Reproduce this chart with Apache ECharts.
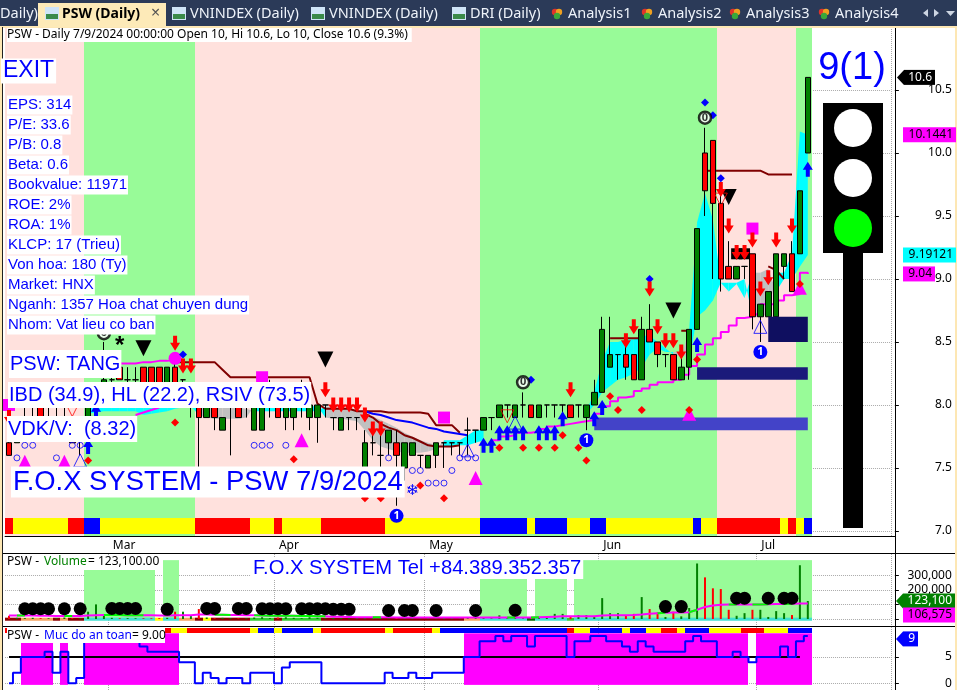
<!DOCTYPE html>
<html>
<head>
<meta charset="utf-8">
<title>PSW (Daily)</title>
<style>html,body{margin:0;padding:0;background:#fff}#main{width:957px;height:690px}</style>
<script src="https://cdn.jsdelivr.net/npm/echarts@6/dist/echarts.min.js"></script>
</head>
<body>
<div id="main"></div>
<script>
const _ = null;
const monthTicks = {13: 'Mar', 34: 'Apr', 53: 'May', 75: 'Jun', 95: 'Jul'};

const open = [7.7,7.7,7.9,7.9,8.0,8.0,8.0,8.0,7.8,7.8, 7.9,8.0,8.1,8.2,8.3,8.2,8.2,8.3,8.3,8.3,
  8.1,8.3,8.2,8.0,8.0,7.9,8.0,7.8,8.0,8.0, 8.0,7.8,7.8,8.0,8.0,7.9,7.9,8.0,7.9,7.9,
  8.0,7.9,7.8,7.9,7.9,7.5,7.7,7.6,7.7,7.7, 7.5,7.6,7.6,7.5,7.6,7.7,7.7,7.7,7.8,7.8,
  7.8,7.9,7.9,8.0,7.9,8.0,8.0,7.9,8.0,8.0, 8.0,8.0,8.0,7.9,8.0,8.1,8.3,8.4,8.4,8.4,
  8.2,8.6,8.5,8.4,8.4,8.2,8.3,8.6,10.0,10.1, 9.6,9.1,9.0,9.1,9.2,8.7,8.7,8.7,9.1,9.2,9.2,10.0];
const close = [7.6,7.8,7.9,7.9,7.9,8.0,8.0,8.0,7.7,7.8, 8.0,8.0,8.2,8.2,8.2,8.2,8.2,8.1,8.1,8.1,
  8.3,8.1,8.2,8.0,7.9,8.0,7.9,7.9,8.0,7.9, 8.0,8.0,8.0,8.0,7.9,8.0,8.0,8.0,8.0,8.0,
  8.0,7.9,7.9,7.9,7.9,7.7,7.7,7.6,7.8,7.6, 7.7,7.7,7.6,7.6,7.7,7.7,7.7,7.7,7.8,7.8,
  7.9,7.9,8.0,8.0,8.0,8.0,7.9,8.0,8.0,8.0, 8.0,7.9,8.0,8.0,8.1,8.6,8.4,8.4,8.3,8.2,
  8.6,8.5,8.4,8.4,8.2,8.3,8.6,9.4,9.7,9.6, 9.0,9.0,9.1,9.1,8.7,8.8,8.9,9.2,9.2,8.9,9.7,10.6];
const low = [7.6,7.7,7.8,7.8,7.8,7.9,7.9,7.9,7.7,7.6, 7.9,7.9,8.1,8.1,8.2,8.1,8.1,8.1,8.1,8.1,
  8.1,8.1,8.1,7.9,7.3,7.9,7.8,7.8,7.6,7.9, 7.9,7.8,7.8,7.9,7.9,7.8,7.8,7.9,7.8,7.7,
  7.9,7.8,7.8,7.8,7.8,7.5,7.6,7.5,7.6,7.2, 7.4,7.6,7.5,7.5,7.5,7.5,7.6,7.6,7.6,7.7,
  7.8,7.8,7.9,7.9,7.9,7.9,7.9,7.9,7.9,7.9, 7.9,7.9,7.9,7.8,8.0,8.1,8.3,8.2,8.2,8.2,
  8.2,8.5,8.3,8.3,8.2,8.2,8.2,8.6,9.5,9.0, 8.9,9.0,9.0,9.0,8.6,8.5,8.7,8.7,9.0,8.9,9.2,10.0];
const high = [7.8,7.9,8.0,8.0,8.1,8.0,8.0,8.1,7.8,7.9, 8.0,8.1,8.5,8.4,8.3,8.3,8.3,8.3,8.3,8.3,
  8.3,8.4,8.2,8.0,8.0,8.0,8.0,7.9,8.0,8.0, 8.0,8.0,8.0,8.2,8.0,8.0,8.0,8.2,8.0,8.0,
  8.0,7.9,7.9,7.9,7.9,7.8,7.8,7.8,7.8,7.8, 7.7,7.7,7.6,7.6,7.7,7.7,7.7,7.7,7.9,7.8,
  7.9,7.9,8.0,8.0,8.0,8.1,8.0,8.0,8.0,8.0, 8.0,8.0,8.0,8.0,8.2,8.7,8.7,8.4,8.5,8.4,
  8.7,8.8,8.5,8.4,8.4,8.4,8.6,9.4,10.2,10.1, 9.7,9.3,9.1,9.1,9.2,8.8,8.9,9.2,9.2,9.3,9.7,10.6];

const volume = [22000,8000,6000,8000,6000,5000,5000,10000,6000,5000, 50000,100000,30000,8000,5000,6000,5000,5000,5000,6000,
  8000,50000,50000,20000,68000,10000,6000,8000,6000,5000, 6000,10000,12000,6000,10000,12000,8000,6000,12000,8000,
  5000,8000,6000,5000,5000,6000,10000,8000,6000,6000, 8000,10000,5000,6000,5000,8000,6000,5000,6000,12000,
  8000,5000,25000,6000,10000,5000,12000,8000,10000,35000, 35000,18000,27000,27000,18000,143000,40000,40000,27000,35000,
  150000,68000,45000,14000,50000,18000,75000,380000,285000,210000, 205000,63000,22000,40000,63000,63000,14000,54000,40000,27000,368000,123100];
const volMa = [24000,24000,24000,24000,22000,22000,20000,20000,20000,20000, 24000,26000,28000,27000,27000,26000,26000,25000,25000,24000,
  24000,25000,26000,26000,30000,30000,29000,29000,28000,28000, 26000,25000,24000,23000,22000,22000,22000,20000,20000,18000,
  18000,16000,15000,14000,12000,12000,12000,12000,12000,11000, 11000,11000,10000,10000,10000,10000,10000,10000,10000,11000,
  10000,10000,11000,11000,11000,10000,10000,12000,14000,16000, 18000,18000,19000,19000,19000,24000,25000,25000,26000,27000,
  31000,36000,40000,42000,44000,44000,46000,63000,82000,92000, 98000,100000,100000,99000,100000,100000,101000,102000,103000,104000,106000,106575];
const volMaGreenRuns = [[1,2],[7,8],[12,17],[26,28],[31,40],[46,47],[63,64],[66,67],[82,83],[86,87],[91,92],[94,96],[98,99]];
const volDots = [[2,70000],[3,70000],[4,70000],[5,70000],[7,70000],[9,70000],[13,72000],[14,72000],[15,72000],[16,72000],[20,66000],
  [25,72000],[26,72000],[29,72000],[30,72000],[32,70000],[33,70000],[34,70000],[35,70000],[37,70000],[38,70000],[39,70000],[40,70000],
  [41,66000],[42,66000],[43,66000],[48,58000],[50,58000],[51,58000],[54,58000],[59,58000],[64,60000],[83,85000],[85,85000],
  [92,142000],[93,142000],[96,142000],[98,142000],[99,142000]];

const maValues = [0,2,5,5,5,6,2,6,0,1, 8,8,8,8,8,8,8,7,6,6, 6,6,4,4,0,2,1,0,1,1, 0,2,2,2,0,3,4,4,4,4,
  0,0,0,0,0,0,0,0,2,1, 1,2,1,1,2,2,2,2,5,5, 8,8,9,8,9,9,7,9,9,9, 9,5,8,8,9,9,8,8,7,6,
  8,7,6,6,6,6,8,9,8,8, 5,5,6,5,4,5,5,5,7,5,8,9];
const safeLevel = 5;

const regime = ['pppppppppp','gggggggggg','ggggpppppp','pppppppppp','pppppppppp','pppppppppp','gggggggggg','gggggggggg','gggggggggg','ppppppppppgg'].join('');
const mainStrip = ['ryyyyyyyrr','bbyyyyyyyy','yyyyrrrrrr','ryyyryyyyy','rrrrrrrryy','yyyyyyyyyy','bbbbbbybbb','byyybbyyyy','yyyyyyybyy','rrrrrrrryryb'].join('');
const maStrip = ['ryyrrrryyb','rrrrrrrrrr','ryyrrrrrrr','rybbybbbby','rrrrrrrryr','rrrrybbbbb','bbbbbbbbbb','bryybbbbyb','byyrrybbby','yyyrrryyybbb'].join('');
const volStrip = ['ddoooododd','ttttttttty','ttoodydddd','dllldlllll','dddddddddd','ddddddddoo','ttttttgttt','tltttttttt','tttttttttt','tttttttttttt'].join('');

const maFast = [_,_,_,_,_,_,_,_,_,_, 7.99,7.99,7.99,7.99,7.99,7.99,7.99,8.0,8.0,8.0,
  8.0,8.0,8.0,7.99,7.92,7.9,7.89,7.89,7.89,7.89, 7.9,7.99,7.99,7.99,7.99,7.99,7.99,7.99,7.99,7.99,
  7.9,7.89,7.89,7.88,7.87,7.8,7.72,7.67,7.65,7.63, 7.62,7.62,7.62,7.63,7.65,7.72,7.72,7.72,7.76,7.8,
  7.8,_,_,_,_,_,_,_,_,_, _,_,_,7.95,8.1,8.35,8.5,8.5,8.52,8.52,
  8.55,8.55,8.5,8.45,8.4,8.38,8.6,9.45,9.68,9.47, 8.97,8.97,8.97,9.0,8.7,8.7,8.72,9.05,9.05,9.2,10.17,10.1441];
const maSlow = [_,_,_,_,_,_,_,_,_,_, 7.93,7.94,7.95,7.95,7.95,7.95,7.95,7.92,7.93,7.94,
  7.95,7.97,7.98,7.99,8.0,8.0,8.0,7.99,7.99,7.98, 7.97,7.95,7.95,7.95,7.95,7.95,7.95,7.95,7.95,7.95,
  7.99,7.98,7.97,7.97,7.96,7.94,7.91,7.88,7.85,7.82, 7.78,7.75,7.72,7.7,7.68,7.67,7.67,7.68,7.68,7.7,
  7.72,_,_,_,_,_,_,_,_,_, _,_,_,7.93,8.0,8.1,8.15,8.2,8.22,8.25,
  8.3,8.4,8.45,8.42,8.42,8.42,8.35,8.7,8.75,8.83, 8.97,8.9,8.96,8.85,9.05,9.05,9.08,8.9,9.0,9.0,9.1,9.19121];

const magentaLine = [_,_,_,_,_,_,_,_,_,_, _,_,_,_,8.33,8.33,8.34,8.34,8.35,8.35,
  8.36,8.36,_,_,_,_,_,_,_,_, _,_,_,_,_,_,_,_,_,_,
  _,_,_,_,_,_,_,_,_,_, _,_,_,_,_,_,_,_,_,_,
  _,7.72,7.75,7.76,7.78,7.78,7.79,7.81,7.83,7.84, 7.85,7.86,7.87,7.88,7.93,7.99,8.03,8.06,8.07,8.11,
  8.13,8.16,8.18,8.18,8.2,8.24,8.31,8.4,8.48,8.53, 8.58,8.63,8.69,8.7,8.72,8.8,8.8,8.83,8.87,8.88,9.05,9.04];
const magentaLow = [[16,7.92],[17,7.94],[18,7.96],[19,7.98]];
const stopLine = [_,_,_,_,_,_,_,_,_,_, _,_,_,_,_,_,_,_,_,_,
  _,8.34,8.34,8.34,8.34,8.34,8.34,8.28,8.22,8.22, 8.22,8.22,8.22,8.22,8.22,8.22,8.22,8.22,8.22,8.01,
  7.97,7.97,7.97,7.97,7.95,7.95,7.95,7.95,7.94,7.94, 7.94,7.94,7.94,7.93,7.84,7.84,7.84,7.78,_,_,
  _,_,_,_,_,_,_,_,_,_, _,_,_,_,_,_,8.53,8.53,8.53,8.53,
  8.53,_,_,_,_,8.59,8.59,_,9.86,9.86, 9.86,9.86,9.86,9.86,9.86,9.86,9.83,9.83,9.83,9.83,_,_];
const slowLine = [[45,7.93],[46,7.9],[47,7.85],[48,7.82],[49,7.8],[50,7.76],[51,7.74],[52,7.71],[53,7.68],[54,7.67],[55,7.67],[56,7.67],[57,7.68]];
const slowLine2 = [[96,9.1],[97,9.07],[98,9.0]];
const blueLine = [[45,7.95],[46,7.93],[47,7.92],[48,7.9],[49,7.88],[50,7.87],[51,7.86],[52,7.84],[53,7.82],[54,7.81],[55,7.79],[56,7.78],[57,7.77],[58,7.76]];

const zoneStart = [74, 87, 96];
const zoneEnd = [101, 101, 101];
const zoneLow = [7.8, 8.2, 8.5];
const zoneHigh = [7.9, 8.3, 8.7];
const zoneColor = ['#4343c8', '#1a1a7a', '#0f0f60'];

const redArrows = [[0,7.9],[21,8.49],[22,8.31],[23,8.31],[40,8.12],[41,8.0],[42,8.0],[43,8.0],[44,8.0],[45,7.92],[46,7.81],[47,7.81],
  [71,8.12],[78,8.51],[79,8.62],[81,8.92],[82,8.62],[83,8.51],[84,8.51],[85,8.42],[90,9.71],[91,9.42],[92,9.21],[93,9.21],[94,9.31],[95,8.92],[96,9.01],[97,9.31],[99,9.42]];
const blueArrows = [[10,7.67],[11,7.95],[60,7.68],[61,7.68],[62,7.78],[63,7.78],[64,7.78],[65,7.78],[67,7.78],[68,7.78],[69,7.78],[70,7.89],[74,7.89],[75,7.98],[87,8.48],[101,9.87]];
const redDots = [[10,7.56],[21,7.86],[36,7.57],[45,7.26],[47,7.26],[52,7.36],[55,7.26],[62,7.66],[65,7.66],[67,7.66],[69,7.66],[70,7.76],[72,7.66],[73,7.56],[76,8.07],[77,7.96],[80,7.96],[86,7.96],[87,8.36],[100,8.96]];
const blueDots = [[22,8.4],[66,8.2],[81,9.0],[88,10.4],[89,10.3],[90,9.8]];
const hollowDots = [[2,7.68],[3,7.68],[8,7.68],[9,7.68],[31,7.68],[32,7.68],[33,7.68],[35,7.68],[1,7.58],[6,7.58],[48,7.58],[57,7.58],[58,7.58],[59,7.58],[51,7.48],[52,7.48],[56,7.48],[53,7.38],[54,7.38],[55,7.38]];
const magentaTriangles = [[2,7.55],[7,7.55],[37,7.72],[59,7.42],[86,7.93],[100,8.93]];
const blackTriangles = [[17,8.45],[40,8.36],[84,8.75],[91,9.65]];
const magentaSquares = [[0,8.0],[32,8.22],[55,7.9],[94,9.4]];
const blackSquares = [[92,9.2],[93,9.2]];
const redOutlines = [[8,7.96],[63,7.91],[90,9.63]];
const blueOutlines = [[9,7.56],[58,7.64],[64,7.86],[95,8.62]];
const oneBadges = [[49,7.12],[73,7.72],[95,8.42]];
const zeroBadges = [[12,8.57],[65,8.18],[88,10.28]];

const titleText = 'PSW - Daily 7/9/2024 00:00:00 Open 10, Hi 10.6, Lo 10, Close 10.6 (9.3%)';
const infoLines = ['EPS: 314','P/E: 33.6','P/B: 0.8','Beta: 0.6','Bookvalue: 11971','ROE: 2%','ROA: 1%','KLCP: 17 (Trieu)','Von hoa: 180 (Ty)','Market: HNX','Nganh: 1357 Hoa chat chuyen dung','Nhom: Vat lieu co ban'];
const tabs = [['Daily)', 0], ['VNINDEX (Daily)', 190], ['VNINDEX (Daily)', 329], ['DRI (Daily)', 470], ['Analysis1', 568], ['Analysis2', 658], ['Analysis3', 746], ['Analysis4', 835]];

const FONT = '"Noto Sans", sans-serif';
const ARIAL = '"Liberation Sans", Arial, sans-serif';
const stripColors = {r: '#ff0000', y: '#ffff00', b: '#0000ff', d: '#8b0000', o: '#f4a460', t: '#40e0d0', l: '#32cd32', g: '#006400'};
const ARROW_DOWN = 'path://M3 0L7 0L7 7L10 7L5 15L0 7L3 7Z';
const ARROW_UP = 'path://M5 0L10 8L7 8L7 15L3 15L3 8L0 8Z';
const SLOTS = 112;

const xLabels = [];
for (let i = 0; i < SLOTS; i++) xLabels.push(monthTicks[i] || '');
const isMonth = function (i) { return monthTicks[i] !== undefined; };
const dotted = {show: true, interval: isMonth, lineStyle: {color: '#aaa', type: 'dotted'}};

function cellSeries(name, grid, rows, colors, z) {
  return {
    name: name, type: 'custom', xAxisIndex: grid, yAxisIndex: grid, z: z, silent: true,
    data: rows, encode: {x: 0, y: [1, 2]},
    renderItem: function (params, api) {
      const a = api.coord([api.value(0), api.value(1)]);
      const b = api.coord([api.value(0), api.value(2)]);
      const w = api.size([1, 0])[0];
      const x0 = Math.round(a[0] - w / 2), x1 = Math.round(a[0] + w / 2);
      return {type: 'rect', shape: {x: x0, y: b[1], width: x1 - x0, height: a[1] - b[1]}, style: {fill: colors[params.dataIndex]}};
    }
  };
}

function stripSeries(name, grid, letters, lo, hi, z) {
  const rows = [], colors = [];
  letters.split('').forEach(function (c, i) {
    rows.push([i, lo, hi]);
    colors.push(stripColors[c]);
  });
  return cellSeries(name, grid, rows, colors, z);
}

function marks(name, data, symbol, size, color, z, extra) {
  return Object.assign({
    name: name, type: 'scatter', data: data, symbol: symbol, symbolSize: size, z: z, silent: true,
    xAxisIndex: 0, yAxisIndex: 0, itemStyle: {color: color, opacity: 1}
  }, extra || {});
}

function lineSeries(name, grid, data, color, width, z, step) {
  return {
    name: name, type: 'line', xAxisIndex: grid, yAxisIndex: grid, data: data, z: z, silent: true,
    showSymbol: false, step: step || false, connectNulls: false, lineStyle: {color: color, width: width}
  };
}

function badge(text, color) {
  return {show: true, position: 'inside', formatter: text, color: color, fontFamily: FONT, fontWeight: 'bold', fontSize: 11};
}

const bgRows = [], bgColors = [];
regime.split('').forEach(function (c, i) {
  bgRows.push([i, 6.96, 11]);
  bgColors.push(c === 'g' ? '#98fb98' : '#ffe1dd');
});
const volBgRows = [], volBgColors = [];
volStrip.split('').forEach(function (c, i) {
  if (c === 't') {
    volBgRows.push([i, -7000, 403000]);
    volBgColors.push('#98fb98');
  }
});
const maBgRows = [], maBgColors = [];
maValues.forEach(function (v, i) {
  if (v >= safeLevel) {
    maBgRows.push([i, -0.3, 9.5]);
    maBgColors.push('#ff00ff');
  }
});

const volGreen = volMa.map(function (v, i) {
  return volMaGreenRuns.some(function (r) { return i >= r[0] && i <= r[1]; }) ? v : null;
});

const option = {
  animation: false,
  backgroundColor: '#fff',
  grid: [
    {left: 5.05, width: 885.8, top: 27, height: 509},
    {left: 5.05, width: 885.8, top: 554, height: 72},
    {left: 5.05, width: 885.8, top: 627, height: 63}
  ],
  xAxis: [
    {
      type: 'category', gridIndex: 0, data: xLabels,
      axisLine: {lineStyle: {color: '#000'}},
      axisTick: {interval: isMonth, length: 5, alignWithLabel: true, lineStyle: {color: '#000'}},
      axisLabel: {interval: isMonth, align: 'left', padding: [2, 0, 0, 1], margin: 2, color: '#000', fontFamily: FONT, fontSize: 12},
      splitLine: dotted
    },
    {type: 'category', gridIndex: 1, data: xLabels, axisLine: {show: false}, axisTick: {show: false}, axisLabel: {show: false}, splitLine: dotted},
    {type: 'category', gridIndex: 2, data: xLabels, axisLine: {show: false}, axisTick: {show: false}, axisLabel: {show: false}, splitLine: dotted}
  ],
  yAxis: [
    {
      type: 'value', gridIndex: 0, position: 'right', offset: 4, min: 6.96, max: 11, scale: true,
      axisLine: {show: false},
      axisTick: {show: true, length: 4, lineStyle: {color: '#000'}, customValues: [7, 7.5, 8, 8.5, 9, 9.5, 10, 10.5]},
      axisLabel: {customValues: [7, 7.5, 8, 8.5, 9, 9.5, 10, 10.5], align: 'right', margin: 57, padding: [2, 0, 0, 0], color: '#000', fontFamily: FONT, fontSize: 12, formatter: function (v) { return v.toFixed(1); }},
      splitLine: {show: true, lineStyle: {color: '#aaa', type: 'dotted'}}
    },
    {
      type: 'value', gridIndex: 1, position: 'right', offset: 4, min: -48000, max: 445000,
      axisLine: {show: false},
      axisTick: {show: true, length: 4, lineStyle: {color: '#000'}, customValues: [0, 100000, 200000, 300000]},
      axisLabel: {customValues: [200000, 300000], align: 'right', margin: 57, color: '#000', fontFamily: FONT, fontSize: 12, formatter: function (v) { return v.toLocaleString('en-US'); }},
      splitLine: {show: true, lineStyle: {color: '#aaa', type: 'dotted'}}
    },
    {
      type: 'value', gridIndex: 2, position: 'right', offset: 4, min: -1.27, max: 10.69,
      axisLine: {show: false},
      axisTick: {show: true, length: 4, lineStyle: {color: '#000'}, customValues: [0, 5]},
      axisLabel: {customValues: [0, 5], align: 'right', margin: 57, color: '#000', fontFamily: FONT, fontSize: 12},
      splitLine: {show: true, lineStyle: {color: '#aaa', type: 'dotted'}}
    }
  ],
  series: [
    cellSeries('regime', 0, bgRows, bgColors, 1),
    stripSeries('mainStrip', 0, mainStrip, 6.976, 7.103, 2),
    {
      name: 'maBand', type: 'custom', xAxisIndex: 0, yAxisIndex: 0, z: 3, silent: true,
      data: maFast.map(function (f, i) { return [i, f === null ? NaN : f, maSlow[i] === null ? NaN : maSlow[i]]; }),
      encode: {x: 0, y: [1, 2]},
      renderItem: function (params, api) {
        const i = params.dataIndex;
        if (maFast[i] === null || maFast[i + 1] === null || maFast[i + 1] === undefined) return null;
        const pts = [
          api.coord([i, maFast[i]]), api.coord([i + 1, maFast[i + 1]]),
          api.coord([i + 1, maSlow[i + 1]]), api.coord([i, maSlow[i]])
        ];
        return {type: 'polygon', shape: {points: pts}, style: {fill: maFast[i] >= maSlow[i] ? '#00ffff' : '#c0c0c0'}};
      }
    },
    lineSeries('magenta', 0, magentaLine, '#ff00ff', 2, 4, 'end'),
    lineSeries('magentaLow', 0, magentaLow, '#ff00ff', 2, 4),
    lineSeries('stop', 0, stopLine, '#800000', 2, 4),
    lineSeries('slow', 0, slowLine, '#800000', 2, 4),
    lineSeries('slow2', 0, slowLine2, '#800000', 2, 4),
    lineSeries('blue', 0, blueLine, '#0000ff', 2, 4),
    {
      name: 'PSW', type: 'candlestick', xAxisIndex: 0, yAxisIndex: 0, z: 5, barWidth: 6, silent: true,
      data: open.map(function (o, i) { return [o, close[i], low[i], high[i]]; }),
      itemStyle: {color: '#008000', color0: '#ff0000', borderColor: '#000', borderColor0: '#000', borderColorDoji: '#000', borderWidth: 1}
    },
    marks('blueOutlines', blueOutlines, 'triangle', 13, 'transparent', 5, {itemStyle: {color: 'transparent', borderColor: '#0000ff', borderWidth: 1}}),
    {
      name: 'zones', type: 'custom', xAxisIndex: 0, yAxisIndex: 0, z: 6, silent: true,
      data: zoneStart.map(function (s, i) { return [s, zoneEnd[i], zoneLow[i], zoneHigh[i]]; }),
      encode: {x: [0, 1], y: [2, 3]},
      renderItem: function (params, api) {
        const a = api.coord([api.value(0), api.value(3)]);
        const b = api.coord([api.value(1), api.value(2)]);
        return {type: 'rect', shape: {x: a[0], y: a[1], width: b[0] - a[0], height: b[1] - a[1]}, style: {fill: zoneColor[params.dataIndex]}};
      }
    },
    marks('blackSquares', blackSquares, 'rect', 11, '#000', 7),
    marks('blackTriangles', blackTriangles, 'triangle', 16, '#000', 7, {symbolRotate: 180}),
    marks('magentaTriangles', magentaTriangles, 'triangle', 14, '#ff00ff', 7),
    marks('magentaSquares', magentaSquares, 'rect', 12, '#ff00ff', 7),
    marks('magentaDot', [[21, 8.37]], 'circle', 13, '#ff00ff', 7),
    marks('hollow', hollowDots, 'circle', 6, 'transparent', 8, {itemStyle: {color: 'transparent', borderColor: '#0000ff', borderWidth: 1}}),
    marks('redOutlines', redOutlines, 'triangle', 13, 'transparent', 8, {symbolRotate: 180, itemStyle: {color: 'transparent', borderColor: '#ff0000', borderWidth: 1}}),
    marks('redDots', redDots, 'diamond', 8, '#ff0000', 8),
    marks('blueDots', blueDots, 'diamond', 8, '#0000ff', 8),
    marks('redArrows', redArrows, ARROW_DOWN, [10, 15], '#ff0000', 9),
    marks('blueArrows', blueArrows, ARROW_UP, [10, 15], '#0000ff', 9),
    marks('oneBadges', oneBadges, 'circle', 14, '#0000ff', 9, {label: badge('1', '#fff')}),
    marks('zeroBadges', zeroBadges, 'circle', 12, '#fff', 9, {itemStyle: {color: '#fff', borderColor: '#000', borderWidth: 2.5}, label: badge('0', '#000')}),
    marks('star', [[14, 8.5]], 'circle', 1, 'transparent', 9, {label: {show: true, position: 'inside', formatter: '*', color: '#000', fontSize: 24, fontFamily: ARIAL, fontWeight: 'bold', offset: [0, 4]}}),
    marks('snow', [[51, 7.32]], 'circle', 1, 'transparent', 9, {label: {show: true, position: 'inside', formatter: '\u2744', color: '#0000ff', fontSize: 15, fontFamily: '"DejaVu Sans"'}}),

    cellSeries('volBg', 1, volBgRows, volBgColors, 1),
    stripSeries('volStrip', 1, volStrip, -12000, 9000, 2),
    {
      name: 'Volume', type: 'bar', xAxisIndex: 1, yAxisIndex: 1, barWidth: 2, z: 3, silent: true,
      data: volume.map(function (v, i) {
        return {value: v, itemStyle: {color: close[i] >= open[i] ? '#008000' : '#ff0000'}};
      })
    },
    lineSeries('volMa', 1, volMa, '#ff00ff', 2, 4),
    lineSeries('volMaUp', 1, volGreen, '#00ff00', 2, 4),
    Object.assign(marks('volDots', volDots, 'circle', 13, '#000', 5), {xAxisIndex: 1, yAxisIndex: 1}),

    cellSeries('maBg', 2, maBgRows, maBgColors, 1),
    (function () {
      const rows = [], colors = [];
      maStrip.split('').forEach(function (c, i) {
        rows.push([i, 9.55, 10.5]);
        colors.push(stripColors[c]);
      });
      return cellSeries('maStrip', 2, rows, colors, 2);
    })(),
    lineSeries('safe', 2, maValues.slice(0, 101).map(function () { return safeLevel; }), '#000', 2, 3),
    lineSeries('Muc do an toan', 2, maValues, '#0000ff', 2, 4, 'middle')
  ]
};

const chart = echarts.init(document.getElementById('main'), null, {renderer: 'canvas'});
chart.setOption(option);

function box(text, x, y, font, fill, pad) {
  return {
    type: 'text', z: 100,
    style: {text: text, x: x, y: y, font: font, fill: fill || '#0000ff', backgroundColor: '#fff', padding: pad || [1, 2], verticalAlign: 'middle'}
  };
}

function rect(x, y, w, h, fill, z) {
  return {type: 'rect', z: z || 100, shape: {x: x, y: y, width: w, height: h}, style: {fill: fill}};
}

function dot(cx, cy, r, fill, z) {
  return {type: 'circle', z: z || 101, shape: {cx: cx, cy: cy, r: r}, style: {fill: fill}};
}

function tag(value, grid, text, x0, x1, bg, fg, arrow, dy) {
  const y = chart.convertToPixel({yAxisIndex: grid}, value) + (dy || 0);
  const out = [];
  if (arrow) {
    out.push({type: 'polygon', z: 110, shape: {points: [[x0, y], [x0 + 7, y - 7.5], [x0 + 7, y + 7.5]]}, style: {fill: bg}});
    out.push(rect(x0 + 7, y - 7.5, x1 - x0 - 7, 15, bg, 110));
  } else {
    out.push(rect(x0, y - 7.5, x1 - x0, 15, bg, 110));
  }
  out.push({type: 'text', z: 111, style: {text: text, x: x1 - 3, y: y, align: 'right', verticalAlign: 'middle', font: '12px ' + FONT, fill: fg}});
  return out;
}

const g = [];

// top tab bar
g.push(rect(0, 0, 957, 26, '#2b3a58'));
g.push(rect(0, 26, 957, 2, '#fde7b4'));
g.push(rect(0, 26, 2, 664, '#fde7b4'));
g.push(rect(955, 26, 2, 664, '#fde7b4'));
g.push(rect(2, 27, 1, 663, '#222', 100));
g.push(rect(38, 3, 128, 24, '#fdeab8'));
tabs.forEach(function (t) {
  const isAnalysis = t[0].indexOf('Analysis') === 0;
  if (t[0] !== 'Daily)') {
    if (isAnalysis) {
      g.push(dot(t[1] - 13, 12, 3.2, '#e0342a'), dot(t[1] - 9, 12, 3.2, '#f0a020'), dot(t[1] - 11, 16, 3.2, '#3aa83a'));
    } else {
      g.push(rect(t[1] - 18, 7, 14, 13, '#cfe4f7'), rect(t[1] - 17, 14, 12, 5, '#3a8a4a'));
    }
  }
  g.push({type: 'text', z: 101, style: {text: t[0], x: t[1], y: 14, verticalAlign: 'middle', font: '14.5px ' + FONT, fill: '#eef3fa'}});
});
g.push(rect(45, 7, 14, 13, '#cfe4f7', 101), rect(46, 14, 12, 5, '#3a8a4a', 101));
g.push({type: 'text', z: 101, style: {text: 'PSW (Daily)', x: 62, y: 14, verticalAlign: 'middle', font: 'bold 14px ' + FONT, fill: '#000'}});
g.push({type: 'text', z: 101, style: {text: '\u00d7', x: 151, y: 13, verticalAlign: 'middle', font: '16px ' + FONT, fill: '#555'}});
g.push({type: 'polygon', z: 101, shape: {points: [[928, 9], [923, 13], [928, 17]]}, style: {fill: '#cdd5e2'}});
g.push({type: 'polygon', z: 101, shape: {points: [[934, 9], [939, 13], [934, 17]]}, style: {fill: '#cdd5e2'}});
g.push({type: 'polygon', z: 101, shape: {points: [[946, 11], [955, 11], [950.5, 16]]}, style: {fill: '#cdd5e2'}});

// pane separators
g.push(rect(5, 536, 890, 1, '#000', 90), rect(3, 553, 952, 1, '#000', 90), rect(3, 626, 952, 1, '#000', 90), rect(895, 27, 1, 663, '#000', 90));

// text boxes
g.push(box(titleText, 7, 35, '12px ' + FONT, '#000', [1, 4, 1, 0]));
g.push(box('EXIT', 1, 71, '23px ' + ARIAL));
infoLines.forEach(function (t, i) {
  g.push(box(t, 7, 105 + i * 20, '15px ' + ARIAL, '#0000ff', [2, 1]));
});
g.push(box('PSW: TANG', 9, 364, '20px ' + ARIAL, '#0000ff', [4, 1]));
g.push(box('IBD (34.9), HL (22.2), RSIV (73.5)', 8, 395, '20px ' + ARIAL, '#0000ff', [3, 1]));
g.push(box('VDK/V:  (8.32)', 7, 429, '20px ' + ARIAL, '#0000ff', [3, 1]));
g.push(box('F.O.X SYSTEM - PSW 7/9/2024', 11, 482, '27.4px ' + ARIAL, '#0000ff', [2, 2]));
g.push(box('F.O.X SYSTEM Tel +84.389.352.357', 251, 568, '20.2px ' + ARIAL, '#0000ff', [1, 2]));
g.push(box('PSW - ', 7, 562, '12px ' + FONT, '#000', [1, 0]));
g.push({type: 'text', z: 101, style: {text: 'Volume', x: 44, y: 562, verticalAlign: 'middle', font: '12px ' + FONT, fill: '#008000'}});
g.push(rect(3, 555, 160, 15, '#fff', 99));
g.push({type: 'text', z: 101, style: {text: '= 123,100.00', x: 88, y: 562, verticalAlign: 'middle', font: '12px ' + FONT, fill: '#000'}});
g.push(rect(7, 627, 158, 16, '#fff', 99));
g.push({type: 'text', z: 101, style: {text: 'PSW - ', x: 7, y: 636, verticalAlign: 'middle', font: '12px ' + FONT, fill: '#000'}});
g.push({type: 'text', z: 101, style: {text: 'Muc do an toan', x: 44, y: 636, verticalAlign: 'middle', font: '12px ' + FONT, fill: '#0000ff'}});
g.push({type: 'text', z: 101, style: {text: '= 9.00', x: 132, y: 636, verticalAlign: 'middle', font: '12px ' + FONT, fill: '#000'}});

// signal light
g.push({type: 'text', z: 101, style: {text: '9(1)', x: 852, y: 69, align: 'center', verticalAlign: 'middle', font: '38px ' + ARIAL, fill: '#0000ff'}});
g.push(rect(823, 103, 60, 150, '#000'), rect(843, 253, 20, 275, '#000'));
g.push(dot(853, 128, 19, '#fff'), dot(853, 178, 19, '#fff'), dot(853, 228, 19, '#00ff00'));

// price tags
[
  tag(10.6, 0, '10.6', 897, 935, '#000', '#fff', true),
  tag(10.1441, 0, '10.1441', 903, 956, '#ff00ff', '#000'),
  tag(9.19121, 0, '9.19121', 903, 956, '#00ffff', '#000'),
  tag(9.04, 0, '9.04', 903, 935, '#ff00ff', '#000'),
  tag(123100, 1, '123,100', 896, 955, '#008000', '#fff', true),
  tag(106575, 1, '106,575', 903, 955, '#ff00ff', '#000', false, 11.5),
  tag(9, 2, '9', 896, 918, '#0000ff', '#fff', true, 3)
].forEach(function (t) { g.push.apply(g, t); });

chart.setOption({graphic: {elements: g}});
</script>
</body>
</html>
